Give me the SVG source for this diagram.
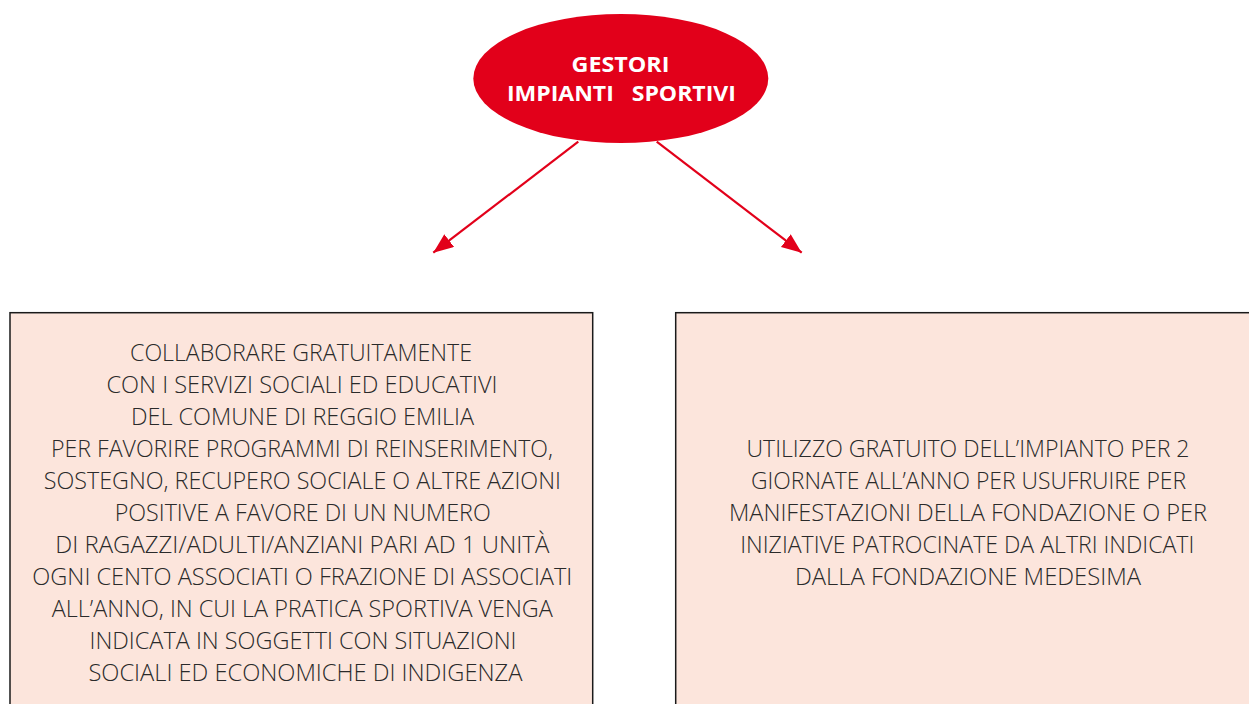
<svg xmlns="http://www.w3.org/2000/svg" width="1249" height="704" viewBox="0 0 1249 704">
<style>
.box{fill:#FCE5DC;stroke:#1a1a1a;stroke-width:1.5}
.t{font-family:"Open Sans","Liberation Sans",sans-serif;font-weight:300;font-size:24px;fill:#2a2a2a;text-anchor:middle}
.h{font-family:"Open Sans","Liberation Sans",sans-serif;font-weight:700;font-size:22px;fill:#ffffff;text-anchor:middle}
.c{stroke:#E2001A;stroke-width:2.2;fill:none}
</style>
<defs>
<marker id="ah" markerUnits="userSpaceOnUse" markerWidth="24" markerHeight="18" refX="20" refY="8" orient="auto">
<path d="M0,0 L20,8 L0,16 Z" fill="#E2001A"/>
</marker>
</defs>
<rect width="1249" height="704" fill="#ffffff"/>
<g id="connectors">
<line class="c" x1="578.3" y1="141.7" x2="433.3" y2="252.7" marker-end="url(#ah)"/>
<line class="c" x1="656.7" y1="141.7" x2="801.7" y2="252.7" marker-end="url(#ah)"/>
</g>
<g id="node-gestori">
<ellipse cx="620.8" cy="78.5" rx="147.5" ry="64.5" fill="#E2001A"/>
<text class="h" x="620.5" y="72" textLength="98" lengthAdjust="spacingAndGlyphs">GESTORI</text>
<text class="h" x="621.4" y="101" textLength="229" lengthAdjust="spacingAndGlyphs" xml:space="preserve">IMPIANTI   SPORTIVI</text>
</g>
<g id="node-left">
<rect class="box" x="10" y="312.7" width="582.7" height="420"/>
<text class="t" x="301" y="361" textLength="342" lengthAdjust="spacingAndGlyphs">COLLABORARE GRATUITAMENTE</text>
<text class="t" x="302" y="393" textLength="391" lengthAdjust="spacingAndGlyphs">CON I SERVIZI SOCIALI ED EDUCATIVI</text>
<text class="t" x="302.5" y="425" textLength="343" lengthAdjust="spacingAndGlyphs">DEL COMUNE DI REGGIO EMILIA</text>
<text class="t" x="302" y="457" textLength="502" lengthAdjust="spacingAndGlyphs">PER FAVORIRE PROGRAMMI DI REINSERIMENTO,</text>
<text class="t" x="302.3" y="489" textLength="517" lengthAdjust="spacingAndGlyphs">SOSTEGNO, RECUPERO SOCIALE O ALTRE AZIONI</text>
<text class="t" x="302.7" y="521" textLength="376" lengthAdjust="spacingAndGlyphs">POSITIVE A FAVORE DI UN NUMERO</text>
<text class="t" x="302.3" y="553" textLength="494" lengthAdjust="spacingAndGlyphs">DI RAGAZZI/ADULTI/ANZIANI PARI AD 1 UNITÀ</text>
<text class="t" x="302.3" y="585" textLength="540" lengthAdjust="spacingAndGlyphs">OGNI CENTO ASSOCIATI O FRAZIONE DI ASSOCIATI</text>
<text class="t" x="302.3" y="617" textLength="501" lengthAdjust="spacingAndGlyphs">ALL’ANNO, IN CUI LA PRATICA SPORTIVA VENGA</text>
<text class="t" x="303" y="649" textLength="427" lengthAdjust="spacingAndGlyphs">INDICATA IN SOGGETTI CON SITUAZIONI</text>
<text class="t" x="305.4" y="681" textLength="434" lengthAdjust="spacingAndGlyphs">SOCIALI ED ECONOMICHE DI INDIGENZA</text>
</g>
<g id="node-right">
<rect class="box" x="675.7" y="312.7" width="600" height="420"/>
<text class="t" x="968" y="457" textLength="443" lengthAdjust="spacingAndGlyphs">UTILIZZO GRATUITO DELL’IMPIANTO PER 2</text>
<text class="t" x="968.5" y="489" textLength="435" lengthAdjust="spacingAndGlyphs">GIORNATE ALL’ANNO PER USUFRUIRE PER</text>
<text class="t" x="968" y="521" textLength="478" lengthAdjust="spacingAndGlyphs">MANIFESTAZIONI DELLA FONDAZIONE O PER</text>
<text class="t" x="967.3" y="553" textLength="454" lengthAdjust="spacingAndGlyphs">INIZIATIVE PATROCINATE DA ALTRI INDICATI</text>
<text class="t" x="968" y="585" textLength="346" lengthAdjust="spacingAndGlyphs">DALLA FONDAZIONE MEDESIMA</text>
</g>
</svg>
